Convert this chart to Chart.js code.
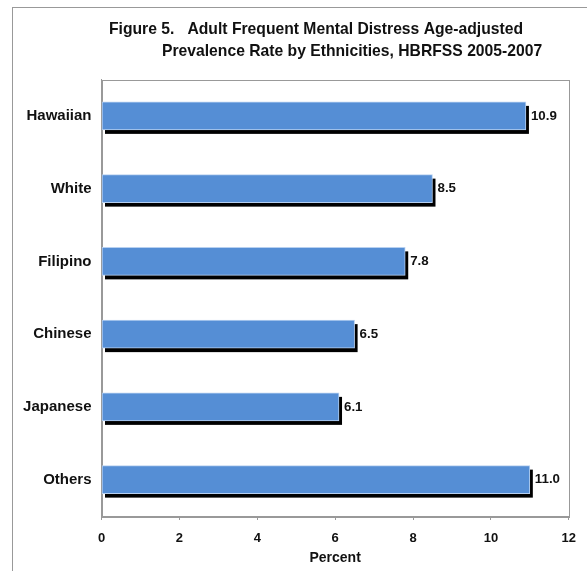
<!DOCTYPE html>
<html>
<head>
<meta charset="utf-8">
<title>Figure 5 - Frequent Mental Distress by Ethnicity</title>
<script src="https://cdn.jsdelivr.net/npm/chart.js"></script>
<style>
  html, body { margin: 0; padding: 0; background: #fff; overflow: hidden; }
  #frame { position: absolute; left: 12px; top: 7px; width: 700px; height: 700px; border: 1px solid #999; box-sizing: border-box; }
  #wrap { position: absolute; left: 0; top: 0; width: 587px; height: 571px; }
</style>
</head>
<body>
<div id="frame"></div>
<div id="wrap"><canvas id="chart" width="587" height="571"></canvas></div>
<script>
// data
const ethnicities = ['Hawaiian', 'White', 'Filipino', 'Chinese', 'Japanese', 'Others'];
const prevalence = [10.9, 8.5, 7.8, 6.5, 6.1, 11.0];
const xTicks = [0, 2, 4, 6, 8, 10, 12];
const titleLines = [
  'Figure 5.   Adult Frequent Mental Distress Age-adjusted',
  'Prevalence Rate by Ethnicities, HBRFSS 2005-2007'
];

const FONT = '"Liberation Sans", Arial, sans-serif';

// two-line title, second line indented like the original
const titlePlugin = {
  id: 'figTitle',
  afterDraw(chart) {
    const ctx = chart.ctx;
    ctx.save();
    ctx.font = 'bold 15.7px ' + FONT;
    ctx.fillStyle = '#111';
    ctx.textAlign = 'left';
    ctx.textBaseline = 'middle';
    ctx.fillText(titleLines[0], 109, 30);
    ctx.fillText(titleLines[1], 162, 52);
    ctx.restore();
  }
};

// grey box round the plot area
const framePlugin = {
  id: 'plotFrame',
  beforeDatasetsDraw(chart) {
    const a = chart.chartArea, ctx = chart.ctx;
    ctx.save();
    ctx.strokeStyle = '#999';
    ctx.lineWidth = 1;
    ctx.strokeRect(Math.round(a.left) + 0.5, Math.round(a.top) + 0.5,
                   Math.round(a.right - a.left), Math.round(a.bottom - a.top));
    ctx.restore();
  }
};

// hard black drop shadow behind each bar
const shadowPlugin = {
  id: 'barShadow',
  beforeDatasetsDraw(chart) {
    const ctx = chart.ctx;
    const meta = chart.getDatasetMeta(0);
    ctx.save();
    ctx.fillStyle = '#000';
    meta.data.forEach(bar => {
      const h = bar.height;
      ctx.fillRect(bar.base + 3, bar.y - h / 2 + 4, bar.x - bar.base, h);
    });
    ctx.restore();
  }
};

// value labels at the end of the bars
const valuePlugin = {
  id: 'barValues',
  afterDatasetsDraw(chart) {
    const ctx = chart.ctx;
    const meta = chart.getDatasetMeta(0);
    ctx.save();
    ctx.font = 'bold 13.3px ' + FONT;
    ctx.fillStyle = '#111';
    ctx.textAlign = 'left';
    ctx.textBaseline = 'middle';
    meta.data.forEach((bar, i) => {
      ctx.fillText(prevalence[i].toFixed(1), bar.x + 5, bar.y);
    });
    ctx.restore();
  }
};

new Chart(document.getElementById('chart'), {
  type: 'bar',
  data: {
    labels: ethnicities,
    datasets: [{
      data: prevalence,
      backgroundColor: '#558ed5',
      borderColor: '#b7d0f0',
      borderWidth: 1,
      borderSkipped: false,
      barThickness: 28
    }]
  },
  options: {
    indexAxis: 'y',
    responsive: false,
    animation: false,
    layout: { padding: { top: 79.5, left: 0, right: 15.7, bottom: 0 } },
    plugins: {
      legend: { display: false },
      title: { display: false },
      tooltip: { enabled: false }
    },
    scales: {
      x: {
        min: 0,
        max: 12,
        afterBuildTicks: s => { s.ticks = xTicks.map(v => ({ value: v })); },
        afterFit: s => { s.height = 55; },
        grid: { drawOnChartArea: false, color: '#999', tickLength: 4 },
        border: { color: '#999' },
        ticks: {
          color: '#111',
          font: { family: FONT, size: 13, weight: 'bold' },
          padding: 11,
          maxRotation: 0
        },
        title: {
          display: true,
          text: 'Percent',
          color: '#111',
          font: { family: FONT, size: 14, weight: 'bold' },
          padding: { top: 0, bottom: 4 }
        }
      },
      y: {
        afterFit: s => { s.width = 101.5; },
        grid: { display: false, drawTicks: false },
        border: { color: '#999' },
        ticks: {
          color: '#111',
          font: { family: FONT, size: 15, weight: 'bold' },
          padding: 10
        }
      }
    }
  },
  plugins: [framePlugin, shadowPlugin, valuePlugin, titlePlugin]
});
</script>
</body>
</html>
